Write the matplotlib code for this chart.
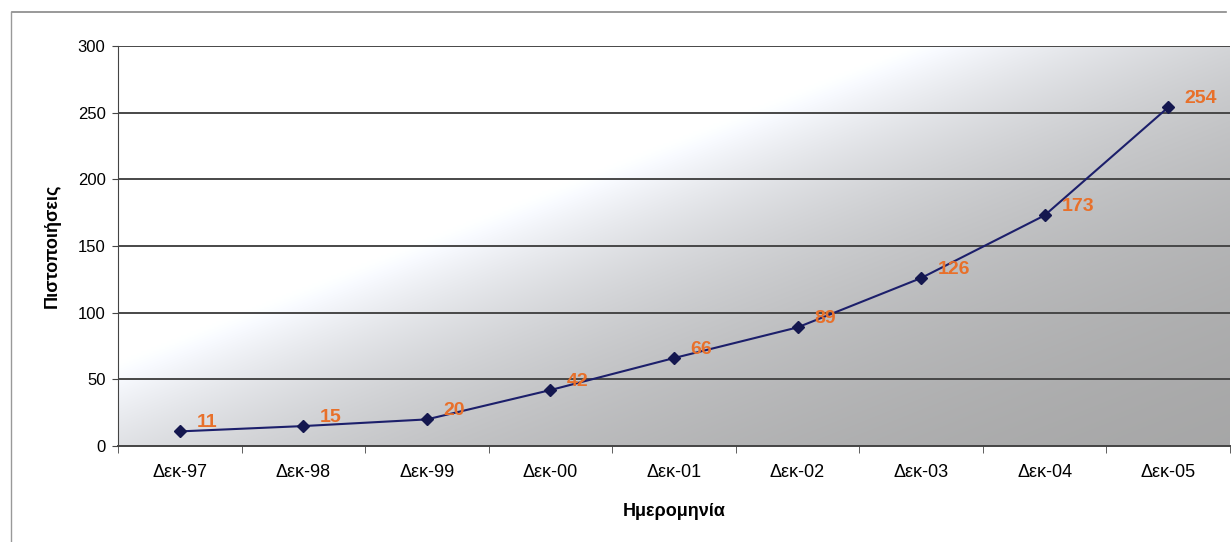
import numpy as np
import matplotlib.pyplot as plt
from matplotlib.lines import Line2D

plt.rcParams['font.family'] = ['Liberation Sans', 'DejaVu Sans']

# data
dates = ['Δεκ-97', 'Δεκ-98', 'Δεκ-99', 'Δεκ-00', 'Δεκ-01',
         'Δεκ-02', 'Δεκ-03', 'Δεκ-04', 'Δεκ-05']
certs = [11, 15, 20, 42, 66, 89, 126, 173, 254]

fig = plt.figure(figsize=(12.32, 5.42), dpi=100)
fig.patch.set_facecolor('white')
ax = fig.add_axes([0.0958, 0.177, 0.9025, 0.738])

x = np.arange(len(dates))

# diagonal grey fill behind the plot area: white upper-left, grey lower-right
px, py = np.meshgrid(np.linspace(118, 1230, 560), np.linspace(46, 446, 200))
s = np.clip(0.371 * (px - 150) + 0.928 * (py - 350), 0, None)
v = 1.0 - 0.38 * (1 - np.exp(-s / 200))
tint = 0.03 * (v - 0.62) / 0.38          # faint blue in the lighter part only
shade = np.dstack([v, np.minimum(v + tint * 0.3, 1), np.minimum(v + tint, 1)])
ax.imshow(shade, aspect='auto',
          extent=[-0.5, len(dates) - 0.5, 0, 300], origin='upper',
          interpolation='bilinear', zorder=0)

ax.set_xlim(-0.5, len(dates) - 0.5)
ax.set_ylim(0, 300)
ax.set_yticks(np.arange(0, 301, 50))
ax.grid(axis='y', color='#474747', linewidth=1.4, zorder=1)
ax.set_axisbelow(False)

ax.plot(x, certs, color='#1c1f6b', linewidth=1.5, marker='D',
        markersize=6.5, markerfacecolor='#14174f', markeredgecolor='#14174f',
        zorder=3)

for xi, val in zip(x, certs):
    ax.annotate(str(val), (xi, val), xytext=(12, 0), textcoords='offset points',
                ha='left', va='bottom', fontsize=14, fontweight='bold',
                color='#e8702a', zorder=4)

# category labels centred, tick marks on the boundaries
ax.set_xticks(x)
ax.set_xticklabels(dates, fontsize=13)
ax.tick_params(axis='x', which='major', length=0, pad=13)
ax.set_xticks(np.arange(-0.5, len(dates), 1), minor=True)
ax.tick_params(axis='x', which='minor', length=5, color='#444444')
ax.tick_params(axis='y', length=4, color='#444444', labelsize=12, pad=5)

for side in ['top', 'right']:
    ax.spines[side].set_visible(False)
ax.spines['left'].set_color('#444444')
ax.spines['bottom'].set_color('#444444')
ax.spines['bottom'].set_linewidth(1.4)

ax.set_xlabel('Ημερομηνία', fontsize=13, fontweight='bold', labelpad=16)
ax.set_ylabel('Πιστοποιήσεις', fontsize=13, fontweight='bold', labelpad=12)

# outer chart frame (top and left edges)
fig.add_artist(Line2D([0.01, 0.995], [0.978, 0.978], color='#888888',
                      linewidth=1.2, transform=fig.transFigure))
fig.add_artist(Line2D([0.009, 0.009], [0.0, 0.978], color='#999999',
                      linewidth=1.0, transform=fig.transFigure))

plt.savefig('out.png', dpi=100)
